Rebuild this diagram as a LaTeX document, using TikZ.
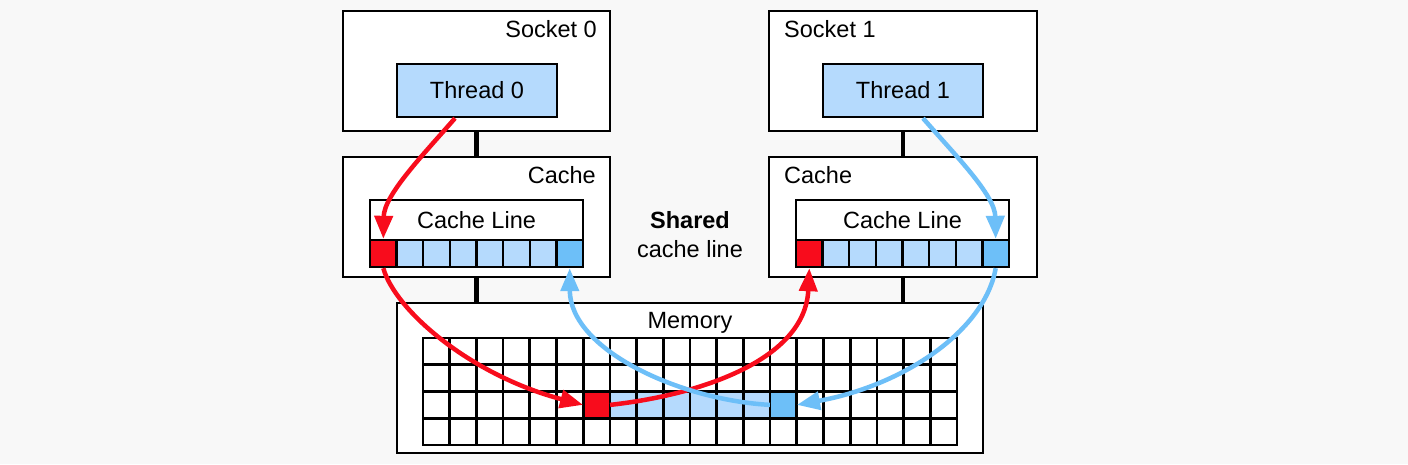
\documentclass[tikz,border=0pt]{standalone}
\usepackage{fontspec}
\setmainfont{Liberation Sans}
\usetikzlibrary{arrows.meta}
\definecolor{bg}{HTML}{F8F8F8}
\definecolor{lb}{HTML}{B5DAFD}
\definecolor{mb}{HTML}{6DBFF8}
\definecolor{rd}{HTML}{F80C1C}
\begin{document}
\begin{tikzpicture}[x=1pt,y=-1pt,
  every node/.style={font=\fontsize{23.5}{28}\selectfont},
  rbox/.style={draw=black,line width=2.4pt,fill=white,inner sep=0pt},
  tbox/.style={draw=black,line width=2.4pt,fill=lb,inner sep=0pt,minimum width=160pt,minimum height=53pt},
  cell/.style={draw=black,line width=2.4pt,fill=lb,inner sep=0pt,minimum width=26.625pt,minimum height=27pt},
  mcell/.style={fill=#1,inner sep=0pt,minimum width=26.7pt,minimum height=26.75pt},
  gridline/.style={line width=2.7pt,draw=black},
  lbl/.style={inner sep=0pt},
  conn/.style={line width=4.5pt,draw=black},
  redarr/.style={line width=4.5pt,draw=rd,-{Triangle[length=23pt,width=18pt]}},
  bluearr/.style={line width=4.5pt,draw=mb,-{Triangle[length=23pt,width=18pt]}}]
\path[use as bounding box,fill=bg] (0,0) rectangle (1408,464);

% sockets
\node[rbox,minimum width=267pt,minimum height=120pt] (s0) at (476.5,71) {};
\node[rbox,minimum width=268pt,minimum height=120pt] (s1) at (903,71) {};
\node[lbl,anchor=base east] (s0l) at (597,37) {Socket 0};
\node[lbl,anchor=base west] (s1l) at (784,37) {Socket 1};
\node[tbox] (t0) at (477,90.5) {Thread 0};
\node[tbox] (t1) at (903,90.5) {Thread 1};

% caches
\node[rbox,minimum width=267pt,minimum height=120pt] (c0) at (476.5,217) {};
\node[rbox,minimum width=268pt,minimum height=120pt] (c1) at (903,217) {};
\node[lbl,anchor=base east] (c0l) at (596,183) {Cache};
\node[lbl,anchor=base west] (c1l) at (784,183) {Cache};
\node[rbox,minimum width=213pt,minimum height=40pt] (cl0) at (476.5,220) {Cache Line};
\node[rbox,minimum width=213pt,minimum height=40pt] (cl1) at (902.5,220) {Cache Line};
\foreach \i in {0,...,7}{
  \node[cell] (lc\i) at ({383.3125+26.625*\i},253.5) {};
  \node[cell] (rc\i) at ({809.3125+26.625*\i},253.5) {};
}
\node[cell,fill=rd] at (lc0) {};
\node[cell,fill=mb] at (lc7) {};
\node[cell,fill=rd] at (rc0) {};
\node[cell,fill=mb] at (rc7) {};

% memory
\node[rbox,minimum width=586pt,minimum height=150pt] (mem) at (690,378) {};
\node[lbl,anchor=base] (meml) at (690,328) {Memory};
\fill[lb] (609.9,391.5) rectangle (770.1,418.25);
\node[mcell=rd] (mred) at (596.55,404.875) {};
\node[mcell=mb] (mblue) at (783.45,404.875) {};
\foreach \i in {0,...,20}
  \draw[gridline] ({423+26.7*\i},338) -- ({423+26.7*\i},445);
\foreach \j in {0,...,4}
  \draw[gridline] (423,{338+26.75*\j}) -- (957,{338+26.75*\j});
\draw[gridline] (423,338) rectangle (957,445);

% shared label
\node[lbl,anchor=base,font=\fontsize{23.5}{28}\selectfont\bfseries] (sh1) at (690,228) {Shared};
\node[lbl,anchor=base] (sh2) at (690,257) {cache line};

% vertical connectors
\draw[conn] (s0.south) -- (c0.north);
\draw[conn] (s1.south) -- (c1.north);
\draw[conn] (c0.south) -- (c0.south |- mem.north);
\draw[conn] (c1.south) -- (c1.south |- mem.north);

% red arrows
\draw[redarr] ([xshift=-22pt]t0.south) .. controls (423,155) and (384,195) .. (lc0.north);
\draw[redarr] (lc0.south) .. controls (395,310) and (470,375) .. (mred.west);
\draw[redarr] (mred.east) .. controls (700,395) and (805,360) .. (rc0.south);
% blue arrows
\draw[bluearr] ([xshift=20pt]t1.south) .. controls (955,155) and (995,195) .. (rc7.north);
\draw[bluearr] (rc7.south) .. controls (985,330) and (905,385) .. (mblue.east);
\draw[bluearr] (mblue.west) .. controls (680,400) and (570,350) .. (lc7.south);
\end{tikzpicture}
\end{document}
